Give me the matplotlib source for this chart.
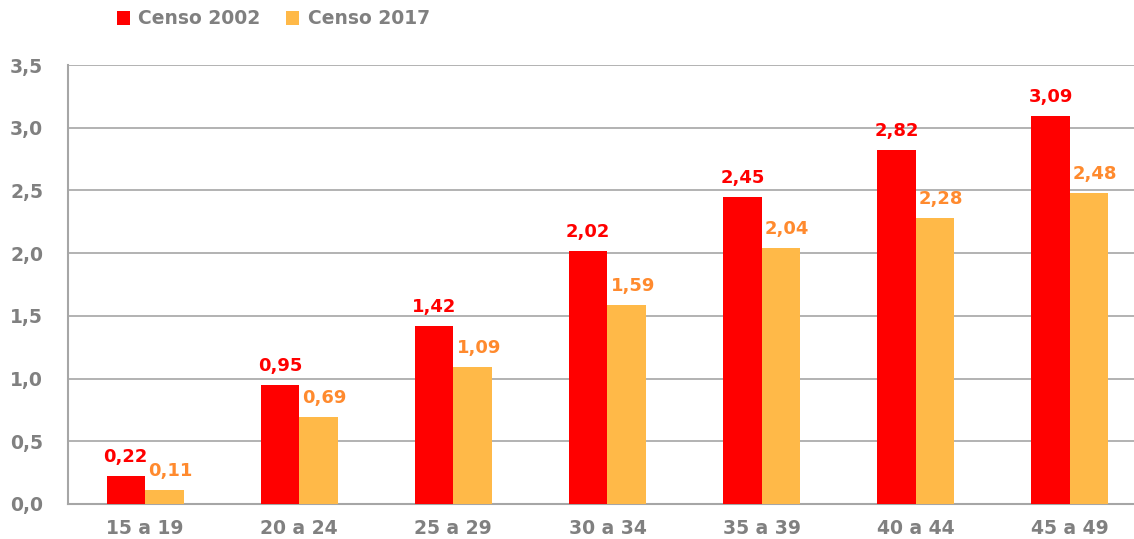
import matplotlib

matplotlib.use("Agg")

import matplotlib.pyplot as plt
import numpy as np

categories = ["15 a 19", "20 a 24", "25 a 29", "30 a 34", "35 a 39", "40 a 44", "45 a 49"]
censo_2002 = [0.22, 0.95, 1.42, 2.02, 2.45, 2.82, 3.09]
censo_2017 = [0.11, 0.69, 1.09, 1.59, 2.04, 2.28, 2.48]
y_ticks = [0.0, 0.5, 1.0, 1.5, 2.0, 2.5, 3.0, 3.5]

RED = "#FF0000"
YELLOW = "#FFB948"
ORANGE = "#FF8A2E"
GRAY = "#808080"
GRID = "#A6A6A6"


def fmt(v: float, nd: int) -> str:
    return f"{v:.{nd}f}".replace(".", ",")


def main() -> None:
    plt.rcParams["font.family"] = ["DejaVu Sans"]
    fig = plt.figure(figsize=(11.34, 5.39), dpi=100)
    ax = fig.add_axes([68 / 1134, 35 / 539, 1079 / 1134, 439 / 539])

    x = np.arange(len(categories))
    w = 0.25
    b1 = ax.bar(x - w / 2, censo_2002, width=w, color=RED, label="Censo 2002", zorder=3)
    b2 = ax.bar(x + w / 2, censo_2017, width=w, color=YELLOW, label="Censo 2017", zorder=3)

    for rect, v in zip(b1, censo_2002):
        ax.text(rect.get_x() + rect.get_width() / 2, v + 0.08, fmt(v, 2), ha="center", va="bottom",
                color=RED, fontsize=13, fontweight="bold")
    for rect, v in zip(b2, censo_2017):
        ax.text(rect.get_x() + rect.get_width() / 2 + 0.04, v + 0.08, fmt(v, 2), ha="center", va="bottom",
                color=ORANGE, fontsize=13, fontweight="bold")

    ax.set_xlim(-0.5, len(categories) - 0.5)
    ax.set_ylim(0, 3.5)
    ax.set_yticks(y_ticks)
    ax.set_yticklabels([fmt(t, 1) for t in y_ticks])
    ax.set_xticks(x)
    ax.set_xticklabels(categories)
    ax.tick_params(axis="both", length=0, labelsize=13.5, labelcolor=GRAY)
    ax.tick_params(axis="y", pad=18)
    ax.tick_params(axis="x", pad=11)
    for lab in ax.get_xticklabels() + ax.get_yticklabels():
        lab.set_fontweight("bold")

    ax.grid(axis="y", color=GRID, linewidth=1.2, zorder=0)
    for side in ["top", "right"]:
        ax.spines[side].set_visible(False)
    for side in ["left", "bottom"]:
        ax.spines[side].set_color(GRID)
        ax.spines[side].set_linewidth(1.5)

    leg = fig.legend(handles=[b1, b2], loc="center left", bbox_to_anchor=(100 / 1134, 1 - 19 / 539),
                     ncol=2, frameon=False, fontsize=13.5, handlelength=0.7, handleheight=0.7,
                     handletextpad=0.45, columnspacing=1.35)
    for t in leg.get_texts():
        t.set_color(GRAY)
        t.set_fontweight("bold")

    fig.savefig("out.png", dpi=100)
    plt.close(fig)


if __name__ == "__main__":
    main()
